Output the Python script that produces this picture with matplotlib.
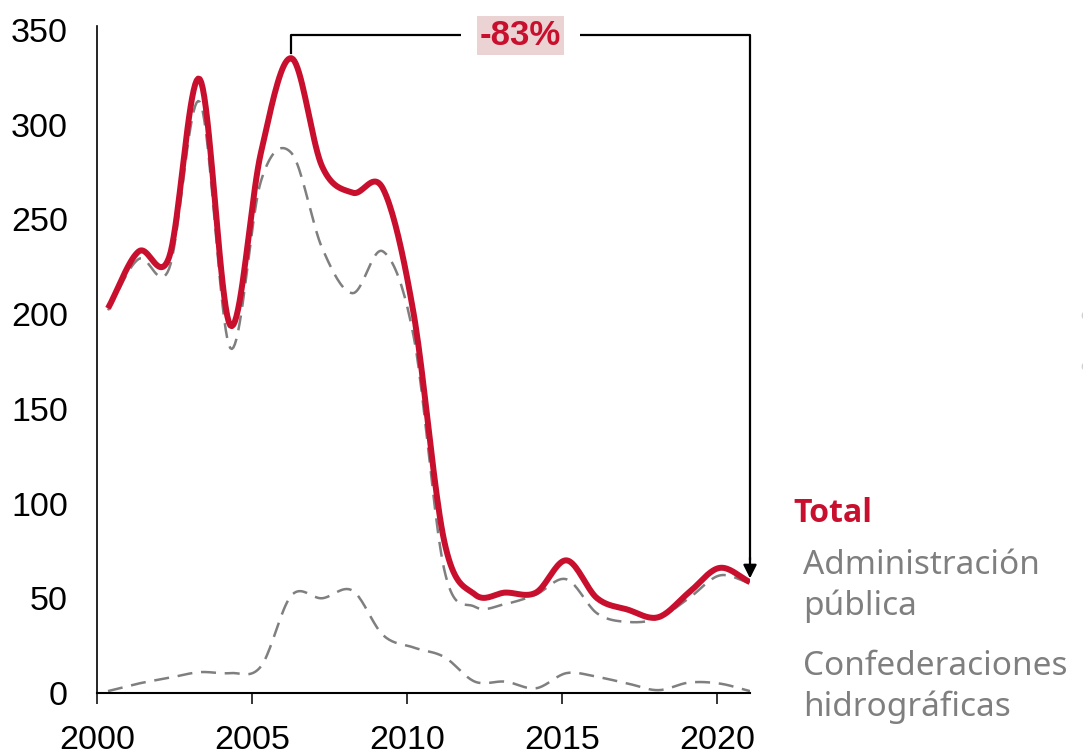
import numpy as np
import matplotlib.pyplot as plt
from matplotlib.lines import Line2D

years = list(range(2000, 2022))
total = [203, 233, 230, 324, 194, 285, 335, 278, 264, 266, 200, 80,
         52, 53, 53, 70, 50, 44, 40, 53, 66, 58.5]
admin = [202, 229, 224, 312, 182, 270, 285, 235, 211, 233, 188, 65,
         45.5, 47, 52, 60, 42, 37.5, 39.5, 50, 62, 58]
confed = [1, 5, 8, 11, 10.5, 14, 51.5, 50, 54, 30.5, 24, 19,
          6, 6, 2.5, 10.5, 8.5, 5, 1.5, 5.5, 5, 1]
labels = ['Total', 'Administración\npública', 'Confederaciones\nhidrográficas']
change_label = '-83%'

RED = '#C8102E'
GREY = '#7f7f7f'

# points sit slightly off the year ticks in the original
xpos = 2000.355 + (np.array(years) - 2000) * 0.986


def smooth(x, y, k=20):
    # catmull-rom, like the "smoothed line" option in spreadsheets
    x = np.asarray(x, float)
    y = np.asarray(y, float)
    px = np.concatenate([[2 * x[0] - x[1]], x, [2 * x[-1] - x[-2]]])
    py = np.concatenate([[2 * y[0] - y[1]], y, [2 * y[-1] - y[-2]]])
    t = np.linspace(0, 1, k, endpoint=False)
    xs, ys = [], []
    for i in range(1, len(px) - 2):
        for p, out in ((px, xs), (py, ys)):
            p0, p1, p2, p3 = p[i - 1], p[i], p[i + 1], p[i + 2]
            out.append(0.5 * (2 * p1 + (-p0 + p2) * t
                              + (2 * p0 - 5 * p1 + 4 * p2 - p3) * t ** 2
                              + (-p0 + 3 * p1 - 3 * p2 + p3) * t ** 3))
    xs.append([x[-1]])
    ys.append([y[-1]])
    return np.concatenate(xs), np.concatenate(ys)


fig = plt.figure(figsize=(10.83, 7.55), dpi=100)
ax = fig.add_axes([97 / 1083, 1 - 693 / 755, (750 - 97) / 1083, (693 - 26) / 755])

for s in (admin, confed):
    sx, sy = smooth(xpos, s)
    ax.plot(sx, sy, color=GREY, lw=1.8, dashes=(6, 3.5), zorder=2)
sx, sy = smooth(xpos, total)
ax.plot(sx, sy, color=RED, lw=4.3, solid_capstyle='butt', zorder=3)

ax.set_xlim(2000, xpos[-1])
ax.set_ylim(0, 352)
ax.set_yticks(range(0, 351, 50))
ax.set_xticks(range(2000, 2021, 5))
for sp in ('top', 'right'):
    ax.spines[sp].set_visible(False)
ax.spines['left'].set_linewidth(1.2)
ax.spines['bottom'].set_linewidth(1.5)
ax.tick_params(axis='y', length=0, pad=21, labelsize=24.5)
ax.tick_params(axis='x', length=8, width=1.1, direction='out', pad=15, labelsize=24.5)
for t in ax.get_xticklabels() + ax.get_yticklabels():
    t.set_fontfamily('Liberation Sans')

# -83% bracket from the peak to the last year
i_peak = int(np.argmax(total))
top = 347
x0, x1 = xpos[i_peak], xpos[-1]
ax.plot([x0, x0, x1, x1], [total[i_peak] + 3, top, top, total[-1] + 12],
        color='black', lw=1.6, clip_on=False, zorder=4)
ax.annotate('', xy=(x1, total[-1] + 2), xytext=(x1, total[-1] + 13),
            arrowprops=dict(arrowstyle='-|>,head_length=0.8,head_width=0.4',
                            color='black', lw=1.6, shrinkA=0, shrinkB=0),
            annotation_clip=False, zorder=4)
xm = (x0 + x1) / 2
ax.text(xm, top, change_label, ha='center', va='center', fontsize=25,
        color='white', fontweight='bold', family='Liberation Sans',
        bbox=dict(boxstyle='square,pad=0.55', fc='white', ec='none'), zorder=5)
ax.text(xm, top, change_label, ha='center', va='center', fontsize=25,
        color=RED, fontweight='bold', family='Liberation Sans',
        bbox=dict(boxstyle='square,pad=0.08', fc='#EBD3D3', ec='none'), zorder=6)

# side legend
fig.text(793 / 1083, 1 - 513 / 755, labels[0], color=RED, fontsize=23,
         fontweight='bold', family='Open Sans', va='center')
fig.text(803 / 1083, 1 - 586 / 755, labels[1], color=GREY, fontsize=24,
         family='Noto Sans', va='center', linespacing=1.27)
fig.text(803 / 1083, 1 - 687 / 755, labels[2], color=GREY, fontsize=24,
         family='Noto Sans', va='center', linespacing=1.27)

# clipped marks at the right edge
for yy in (315, 366):
    fig.add_artist(Line2D([1086 / 1083], [1 - yy / 755], marker='o', ms=6,
                          color='#cfcfcf', transform=fig.transFigure))

fig.savefig('out.png', dpi=100)
